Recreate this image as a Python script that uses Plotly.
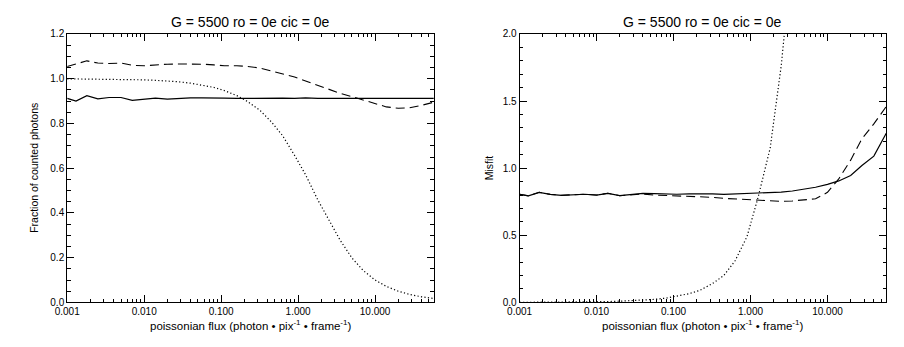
import math
import plotly.graph_objects as go

# Poissonian flux grid (photon / pix / frame)
flux = [0.001, 0.0013, 0.0018, 0.0025, 0.0035, 0.005, 0.007, 0.01, 0.014, 0.02,
        0.028, 0.04, 0.056, 0.08, 0.11, 0.16, 0.22, 0.32, 0.45, 0.63,
        0.9, 1.25, 1.8, 2.5, 3.5, 5, 7, 10, 14, 20, 28, 40, 58]

# Left panel: fraction of counted photons
frac_solid = [0.912, 0.900, 0.924, 0.910, 0.916, 0.916, 0.903, 0.907, 0.913, 0.909,
              0.912, 0.914, 0.914, 0.912, 0.913, 0.912, 0.913, 0.912, 0.912, 0.913,
              0.912, 0.914, 0.912, 0.912, 0.912, 0.913, 0.912, 0.912, 0.912, 0.912,
              0.912, 0.912, 0.912]
frac_dashed = [1.055, 1.065, 1.080, 1.070, 1.068, 1.070, 1.060, 1.058, 1.062, 1.065,
               1.066, 1.066, 1.065, 1.062, 1.058, 1.058, 1.055, 1.048, 1.035, 1.022,
               1.008, 0.990, 0.970, 0.952, 0.935, 0.920, 0.905, 0.888, 0.874, 0.868,
               0.870, 0.881, 0.895]
frac_dotted = [0.9995, 0.9994, 0.9991, 0.9988, 0.9983, 0.9975, 0.9965, 0.9950, 0.9930, 0.9901,
               0.9862, 0.9803, 0.9727, 0.9613, 0.9470, 0.9244, 0.8983, 0.8583, 0.8069, 0.7450,
               0.6571, 0.5708, 0.4585, 0.3672, 0.2792, 0.1987, 0.1427, 0.1000, 0.0714, 0.0500,
               0.0357, 0.0250, 0.0172]

# Right panel: misfit
mis_solid = [0.806, 0.794, 0.820, 0.805, 0.798, 0.803, 0.806, 0.800, 0.813, 0.795,
             0.803, 0.812, 0.810, 0.806, 0.806, 0.808, 0.810, 0.808, 0.805, 0.808,
             0.812, 0.817, 0.818, 0.822, 0.830, 0.843, 0.858, 0.880, 0.905, 0.945,
             1.020, 1.090, 1.260]
mis_dashed = [0.806, 0.794, 0.820, 0.805, 0.798, 0.803, 0.806, 0.800, 0.813, 0.795,
              0.803, 0.808, 0.800, 0.797, 0.793, 0.790, 0.787, 0.783, 0.775, 0.770,
              0.765, 0.758, 0.754, 0.753, 0.756, 0.762, 0.772, 0.820, 0.920, 1.060,
              1.220, 1.330, 1.460]
mis_dotted = [0.0002, 0.0003, 0.0005, 0.0007, 0.0010, 0.0017, 0.0025, 0.0040, 0.0060, 0.0090,
              0.013, 0.015, 0.022, 0.032, 0.045, 0.065, 0.090, 0.140, 0.200, 0.310,
              0.490, 0.780, 1.150, 1.760, 2.600, 3.900, 5.800, 8.500, 12.0, 18.0,
              26.0, 38.0, 56.0]

x_ticks = [0.001, 0.01, 0.1, 1, 10]
x_ticktext = ["0.001", "0.010", "0.100", "1.000", "10.000"]
y1_ticks = [0.0, 0.2, 0.4, 0.6, 0.8, 1.0, 1.2]
y2_ticks = [0.0, 0.5, 1.0, 1.5, 2.0]

title_text = "G = 5500 ro = 0e cic = 0e"
xlabel = "poissonian flux (photon • pix<sup>-1</sup> • frame<sup>-1</sup>)"

W, H = 904, 347
FAMILY = "Liberation Sans, Arial, sans-serif"
TICKFONT = dict(family=FAMILY, size=10, color="black")

minor_x = [m * 10 ** e for e in range(-3, 2) for m in range(2, 10) if m * 10 ** e <= 58]

fig = go.Figure()

def add_lines(xaxis, yaxis, ys):
    styles = [("solid", 1.2), ("9px,5px", 1.1), ("1.2px,2.3px", 1.2)]
    for y, (dash, w) in zip(ys, styles):
        fig.add_trace(go.Scatter(x=flux, y=y, mode="lines", xaxis=xaxis, yaxis=yaxis,
                                 line=dict(color="black", width=w, dash=dash),
                                 showlegend=False, hoverinfo="skip"))

add_lines("x", "y", [frac_solid, frac_dashed, frac_dotted])
add_lines("x2", "y2", [mis_solid, mis_dashed, mis_dotted])

xmax = math.log10(58)
common_x = dict(type="log", range=[-3, xmax], tickmode="array", tickvals=x_ticks,
                ticktext=x_ticktext, ticks="inside", ticklen=7, tickwidth=1,
                tickcolor="black", showline=True, linecolor="black", linewidth=1,
                mirror="ticks", showgrid=False, zeroline=False, tickfont=TICKFONT,
                minor=dict(tickmode="array", tickvals=minor_x, ticks="inside",
                           ticklen=3.5, tickwidth=1, tickcolor="black", showgrid=False))

common_y = dict(ticks="inside", ticklen=7, tickwidth=1, tickcolor="black",
                showline=True, linecolor="black", linewidth=1, mirror="ticks",
                showgrid=False, zeroline=False, tickfont=TICKFONT, tickmode="array")

ydom = [1 - 307 / H, 1 - 29 / H]
fig.update_layout(
    width=W, height=H, margin=dict(l=0, r=0, t=0, b=0),
    paper_bgcolor="white", plot_bgcolor="white",
    xaxis=dict(common_x, domain=[55 / W, 427 / W], anchor="y"),
    xaxis2=dict(common_x, domain=[514 / W, 886 / W], anchor="y2"),
    yaxis=dict(common_y, domain=ydom, anchor="x", range=[0, 1.2], tickvals=y1_ticks,
               ticktext=[f"{v:.1f}" for v in y1_ticks],
               minor=dict(dtick=0.05, ticks="inside", ticklen=3.5, tickwidth=1,
                          tickcolor="black", showgrid=False)),
    yaxis2=dict(common_y, domain=ydom, anchor="x2", range=[0, 2.0], tickvals=y2_ticks,
                ticktext=[f"{v:.1f}" for v in y2_ticks],
                minor=dict(dtick=0.1, ticks="inside", ticklen=3.5, tickwidth=1,
                           tickcolor="black", showgrid=False)),
)

def label(x, y, text, size=10, angle=0):
    fig.add_annotation(x=x / W, y=1 - y / H, xref="paper", yref="paper", text=text,
                       showarrow=False, textangle=angle, xanchor="center", yanchor="middle",
                       font=dict(family=FAMILY, size=size, color="black"))

for cx in (241, 700):
    label(cx, 17, title_text, size=14)
    label(cx, 330, xlabel, size=11.5)
label(22, 168, "Fraction of counted photons", size=10.5, angle=-90)
label(483, 168, "Misfit", size=10.5, angle=-90)

fig.write_html("out.html")
